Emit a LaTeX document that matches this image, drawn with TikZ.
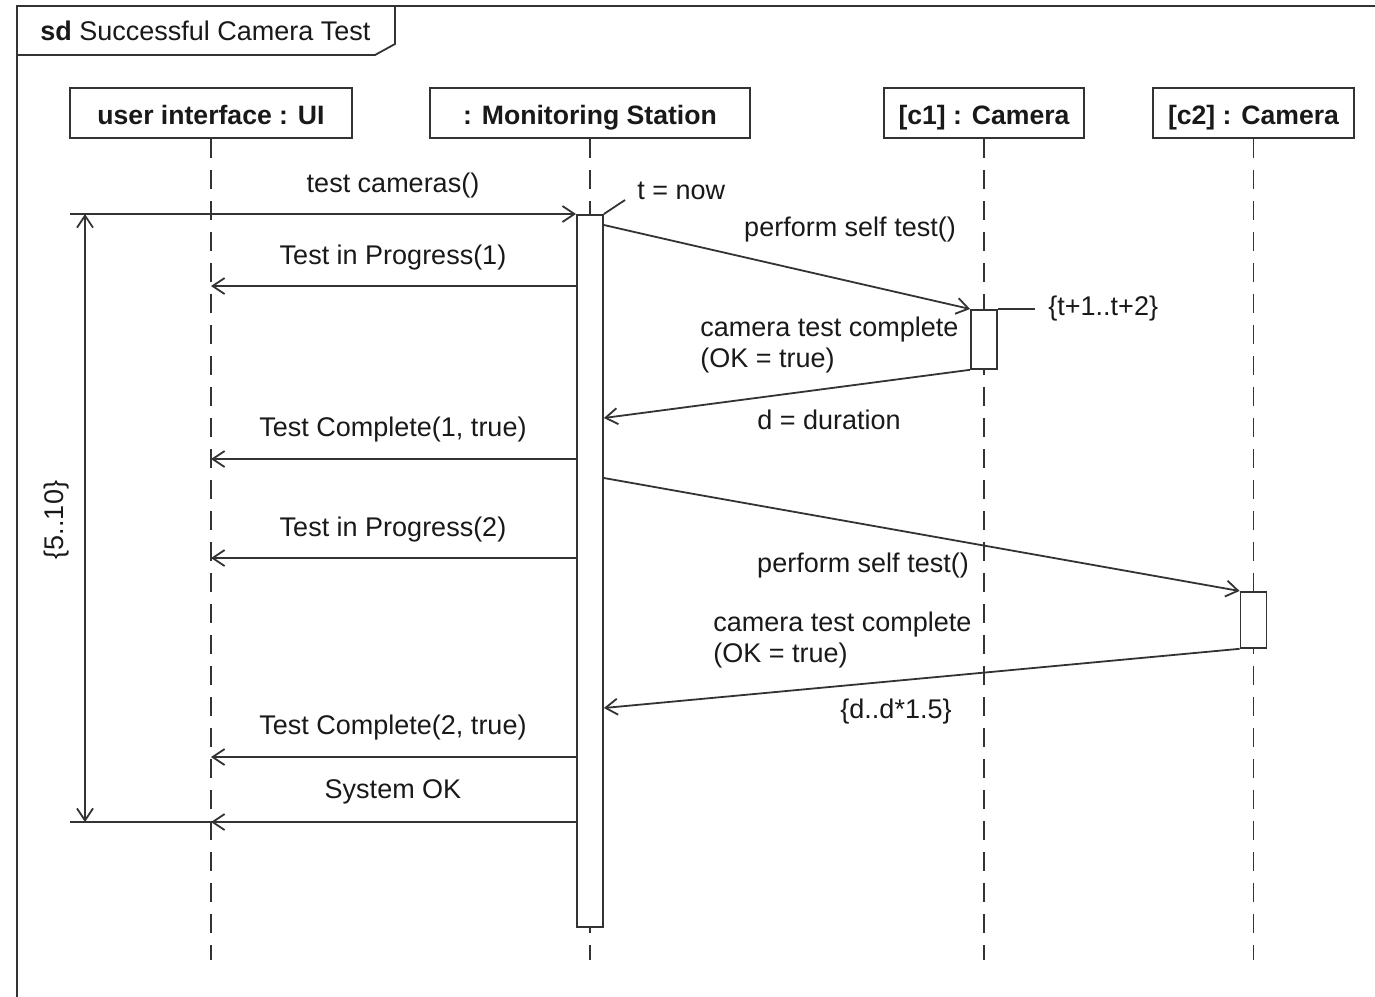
\documentclass[tikz,border=0pt]{standalone}
\usepackage{fontspec}
\setmainfont{Liberation Sans}
\usetikzlibrary{arrows.meta}
\begin{document}
\begin{tikzpicture}[x=0.5pt,y=-0.5pt,
  every node/.style={font=\fontsize{13.5}{15.5}\selectfont, inner sep=0pt, text=black!90},
  ln/.style={draw=black!80, line width=0.9pt},
  headbox/.style={ln, fill=white, minimum width=#1, minimum height=25pt, text height=11pt, text depth=0pt, font=\fontsize{13.3}{15.5}\selectfont\bfseries},
  lifeline/.style={ln, dash pattern=on 9.5pt off 6pt},
  actbox/.style={ln, fill=white, minimum width=13pt, anchor=north},
  msg/.style={ln, -{Straight Barb[length=6pt,width=8pt,line width=0.9pt]}},
  dur/.style={ln, {Straight Barb[length=6pt,width=8pt,line width=0.9pt]}-{Straight Barb[length=6pt,width=8pt,line width=0.9pt]}}
]
\useasboundingbox (0,0) rectangle (1375,996);
% frame
\draw[ln] (17,1000) -- (17,6) -- (1380,6);
\draw[ln] (395,6) -- (395,44) -- (375,55) -- (17,55);
\node[anchor=west] (title) at (40,31) {\textbf{sd} Successful Camera Test};

% lifeline heads
\node[headbox=141pt] (ui) at (211,113) {user interface : UI};
\node[headbox=160pt] (ms) at (590,113) {: Monitoring Station};
\node[headbox=100pt] (c1) at (984,113) {[c1] : Camera};
\node[headbox=100.5pt] (c2) at (1253.5,113) {[c2] : Camera};

% lifelines
\coordinate (uiend) at (211,960);
\coordinate (msend) at (590,960);
\coordinate (c1end) at (984,960);
\coordinate (c2end) at (1253.5,960);
\draw[lifeline] (ui.south) -- (uiend);
\draw[lifeline] (ms.south) -- (msend);
\draw[lifeline] (c1.south) -- (c1end);
\draw[lifeline] (c2.south) -- (c2end);

% activations
\node[actbox, minimum height=356pt] (msact) at (590,214) {};
\node[actbox, minimum height=29.5pt] (c1act) at (984,309) {};
\node[actbox, minimum height=28pt] (c2act) at (1253.5,591) {};

% found message
\coordinate (found) at (70,214);
\draw[msg] (found) -- (msact.north west);
\node (l1) at (393,186) {test cameras()};

% t = now
\coordinate (tnow) at (625,200);
\draw[ln] (msact.north east) -- (tnow);
\node[anchor=west] (l2) at (637,191) {t = now};

% messages
\draw[msg] (msact.west |- 0,286) -- (ui.center |- 0,286);
\node (l3) at (393,258) {Test in Progress(1)};

\draw[msg] (msact.east |- 0,225) -- (c1act.north west);
\node (l4) at (850,230) {perform self test()};

\coordinate (c1tick) at (1035,309);
\draw[ln] (c1act.north east) -- (c1tick);
\node[anchor=west] (l5) at (1048,309) {\{t+1..t+2\}};

\draw[msg] (c1act.south west) -- (msact.east |- 0,418);
\node[anchor=west, align=left] (l6) at (700,345.5) {camera test complete\\(OK = true)};
\node (l7) at (829,420) {d = duration};

\draw[msg] (msact.west |- 0,459) -- (ui.center |- 0,459);
\node (l8) at (393,430) {Test Complete(1, true)};

\draw[msg] (msact.east |- 0,478) -- (c2act.north west);
\node (l9) at (863,566) {perform self test()};

\draw[msg] (msact.west |- 0,558) -- (ui.center |- 0,558);
\node (l10) at (393,530) {Test in Progress(2)};

\draw[msg] (c2act.south west) -- (msact.east |- 0,708);
\node[anchor=west, align=left] (l11) at (713,640) {camera test complete\\(OK = true)};
\node (l12) at (896,712) {\{d..d*1.5\}};

\draw[msg] (msact.west |- 0,757) -- (ui.center |- 0,757);
\node (l13) at (393,728) {Test Complete(2, true)};

\coordinate (dend) at (70,822);
\draw[msg] (msact.west |- 0,822) -- (ui.center |- 0,822);
\draw[ln] (ui.center |- 0,822) -- (dend);
\node (l14) at (393,792) {System OK};

% duration constraint
\coordinate (dtop) at (85,214);
\coordinate (dbot) at (85,822);
\draw[dur] (dtop) -- (dbot);
\node[rotate=90] (l15) at (57,520) {\{5..10\}};
\end{tikzpicture}
\end{document}
